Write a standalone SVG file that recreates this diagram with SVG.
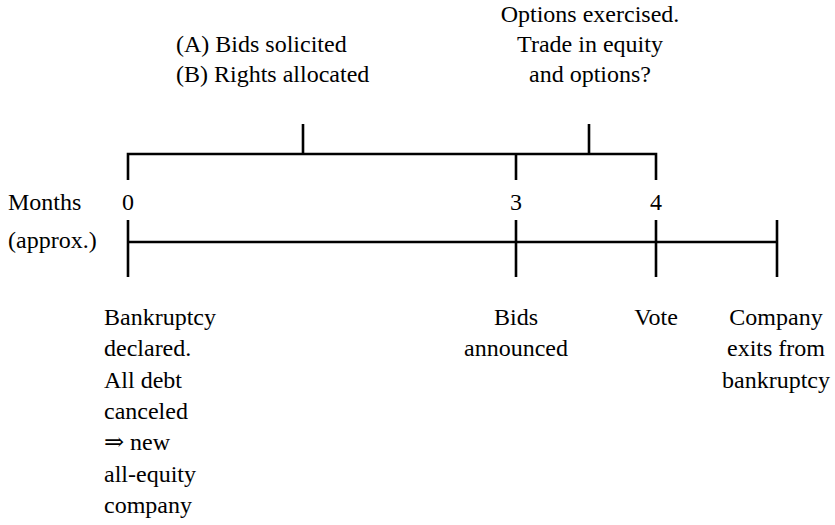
<svg xmlns="http://www.w3.org/2000/svg" width="835" height="525" viewBox="0 0 835 525">
<style>
text{font-family:'Liberation Serif','Times New Roman',Tinos,'DejaVu Serif',serif;font-size:24px;fill:#000}
.c{text-anchor:middle}
.ln{stroke:#000;stroke-width:2.6;fill:none}
</style>
<rect width="835" height="525" fill="#fff"/>
<g id="connectors">
<path class="ln" d="M128,180V154H656V180M516,154V180M303,124V154M589,124V154"/>
<path class="ln" d="M128,242H777M128,220V277M516,220V277M656,220V277M777,220V277"/>
</g>
<g id="axis-label">
<text x="8" y="210">Months</text>
<text x="8" y="248">(approx.)</text>
</g>
<g id="m0"><text class="c" x="128" y="210">0</text></g>
<g id="m3"><text class="c" x="516" y="210">3</text></g>
<g id="m4"><text class="c" x="656" y="210">4</text></g>
<g id="bids-solicited">
<text x="176" y="52">(A) Bids solicited</text>
<text x="176" y="82">(B) Rights allocated</text>
</g>
<g id="options">
<text class="c" x="590" y="22">Options exercised.</text>
<text class="c" x="590" y="52">Trade in equity</text>
<text class="c" x="590" y="82">and options?</text>
</g>
<g id="bankruptcy">
<text x="104" y="325">Bankruptcy</text>
<text x="104" y="356">declared.</text>
<text x="104" y="388">All debt</text>
<text x="104" y="419">canceled</text>
<text x="104" y="450">⇒ new</text>
<text x="104" y="482">all-equity</text>
<text x="104" y="513">company</text>
</g>
<g id="bids-announced">
<text class="c" x="516" y="325">Bids</text>
<text class="c" x="516" y="356">announced</text>
</g>
<g id="vote"><text class="c" x="656" y="325">Vote</text></g>
<g id="exit">
<text class="c" x="776" y="325">Company</text>
<text class="c" x="776" y="356">exits from</text>
<text class="c" x="776" y="388">bankruptcy</text>
</g>
</svg>
